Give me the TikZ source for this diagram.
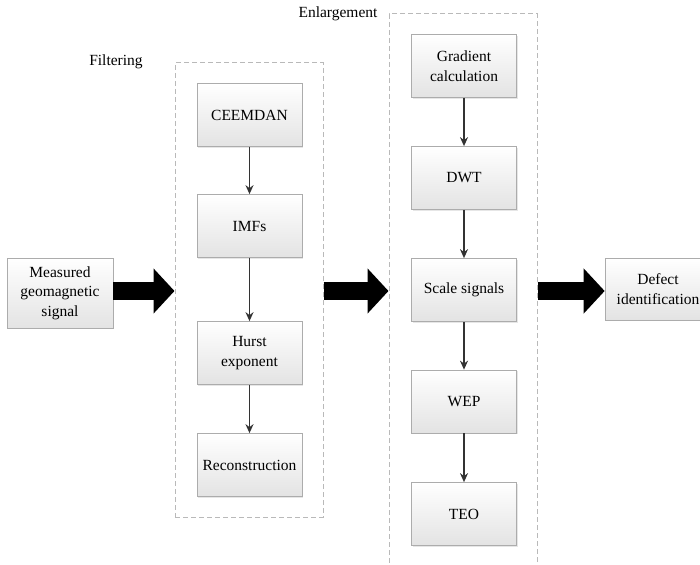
\documentclass[tikz,border=0pt]{standalone}
\usepackage{fontspec}
\setmainfont{Liberation Serif}
\usetikzlibrary{arrows.meta,shadows}
\begin{document}
\begin{tikzpicture}[x=1pt,y=-1pt,
  procbox/.style={draw=gray!65, line width=0.7pt, top color=white, bottom color=gray!22,
    minimum width=105pt, minimum height=63pt, align=center, inner sep=2pt,
    font=\fontsize{15.5}{19.5}\selectfont, text=black,
    drop shadow={opacity=0.2, shadow xshift=1.2pt, shadow yshift=-1.2pt}},
  groupbox/.style={draw=gray!55, dashed, dash pattern=on 5pt off 3pt, line width=1pt, inner sep=0pt},
  flow/.style={draw=black!80, line width=1.6pt, -{Stealth[length=9pt,width=8pt]}},
  bigarrow/.style={draw=black, line width=18pt, -{Triangle[length=21pt,width=44pt]}},
  grouplabel/.style={font=\fontsize{15.5}{19.5}\selectfont, text=black}
]
\useasboundingbox (0,0) rectangle (700,564);

% group frames
\node[groupbox, minimum width=148pt, minimum height=454pt] (filt) at (249,290) {};
\node[groupbox, minimum width=148pt, minimum height=600pt] (enl) at (463,314) {};
\node[grouplabel] (filtlab) at (116,62) {Filtering};
\node[grouplabel] (enllab) at (338,14) {Enlargement};

% filtering column
\node[procbox] (ceem) at (249.5,115) {CEEMDAN};
\node[procbox] (imfs) at (249.5,226) {IMFs};
\node[procbox] (hurst) at (249.5,353) {Hurst\\exponent};
\node[procbox] (recon) at (249.5,465) {Reconstruction};

% enlargement column
\node[procbox] (grad) at (464,66) {Gradient\\calculation};
\node[procbox] (dwt) at (464,178) {DWT};
\node[procbox] (scale) at (464,290) {Scale signals};
\node[procbox] (wep) at (464,401.5) {WEP};
\node[procbox] (teo) at (464,514) {TEO};

% input / output
\node[procbox, minimum width=106pt, minimum height=70pt] (meas) at (60,293) {Measured\\geomagnetic\\signal};
\node[procbox, minimum width=106pt, minimum height=62pt] (defect) at (658,289) {Defect\\identification};

% small flow arrows
\draw[flow] (ceem) -- (imfs);
\draw[flow] (imfs) -- (hurst);
\draw[flow] (hurst) -- (recon);
\draw[flow] (grad) -- (dwt);
\draw[flow] (dwt) -- (scale);
\draw[flow] (scale) -- (wep);
\draw[flow] (wep) -- (teo);

% big arrows
\coordinate (ay) at (0,291);
\draw[bigarrow] (meas.east |- ay) -- (filt.west |- ay);
\draw[bigarrow] (filt.east |- ay) -- (enl.west |- ay);
\draw[bigarrow] (enl.east |- ay) -- (defect.west |- ay);
\end{tikzpicture}
\end{document}
